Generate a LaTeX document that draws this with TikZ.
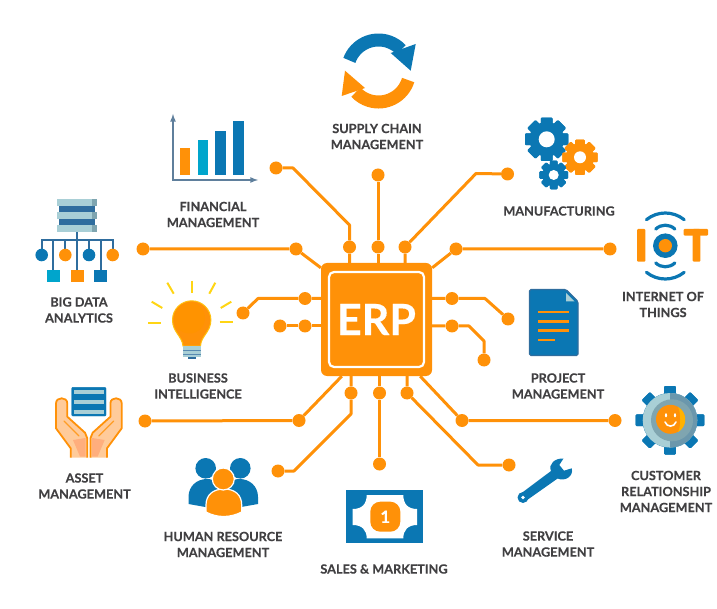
\documentclass[tikz,border=0pt]{standalone}
\usepackage{fontspec}
\setmainfont{Lato}[BoldFeatures={FakeBold=0.25}]
\usepackage{tikz}
\definecolor{erporange}{HTML}{FF9108}
\definecolor{erpblue}{HTML}{0B77B3}
\definecolor{erpcyan}{HTML}{00A5CC}
\definecolor{erpink}{HTML}{414042}
\definecolor{slate}{HTML}{5F7F9C}
\definecolor{stone}{HTML}{A9CFD6}
\definecolor{stonedark}{HTML}{7FA5B0}
\definecolor{ribbon}{HTML}{2F6D9E}
\definecolor{ray}{HTML}{FFD514}
\definecolor{peach}{HTML}{FFCB9A}
\definecolor{peachdark}{HTML}{FFAE7D}
\tikzstyle{pad}=[circle,fill=erporange,inner sep=0,minimum size=13pt]
\tikzstyle{trace}=[erporange,line width=3pt,line join=round]
\tikzstyle{lbl}=[erpink,font=\fontsize{12.7}{16}\selectfont\bfseries,align=center,inner sep=0]
\tikzstyle{wave}=[erpblue,line width=3.2pt,line cap=round]
\tikzstyle{rayline}=[ray,line width=2pt]
\newcommand{\gearicon}[6]{
        \fill[#5] (#1,#2) circle (0.8*#3);
        \foreach \a in {0,45,...,315}
                \fill[#5,rounded corners=1pt,rotate around={\a:(#1,#2)}] (#1-#6*#3,#2-#3) rectangle (#1+#6*#3,#2+#3);
        \fill[white] (#1,#2) circle (#4);
}
\newcommand{\handicon}{
        \filldraw[fill=peach,draw=erporange,line width=1.8pt,line join=round] (70.7,457.7) -- (70.7,448.3) -- (56,428.3) -- (56,403.3) .. controls (56,396.6) and (67.3,396.6) .. (67.3,403.3) -- (67.3,416.7) -- (85,432.7) -- (87.3,438.3) -- (87.3,457.7);
        \fill[peachdark] (73,440) -- (85.5,438) -- (85.5,456.5) -- (80,456.5) -- cycle;
        \draw[erporange!80!peach,line width=1.2pt,line cap=round] (64,421) -- (79,436);
}
\begin{document}
\begin{tikzpicture}[x=1pt,y=-1pt]
        \useasboundingbox (0,0) rectangle (717,609);
        \node[fill=erporange,rounded corners=6pt,inner sep=0,minimum width=111pt,minimum height=113pt] (chip) at (376.5,319.5) {};
        \node[fill=erporange,draw=white,line width=2.2pt,rounded corners=5pt,inner sep=0,minimum width=95pt,minimum height=95pt,text=white,font=\fontsize{43}{43}\selectfont\bfseries] (erp) at (376.5,319.5) {ERP};

        \node[pad] (fin1) at (276,168) {};
        \node[pad] (fin2) at (349.5,247) {};
        \node[pad] (sup1) at (378,175) {};
        \node[pad] (sup2) at (378,247) {};
        \node[pad] (man1) at (507.5,174) {};
        \node[pad] (man2) at (405,247) {};
        \node[pad] (big1) at (143,249) {};
        \node[pad] (big2) at (296,249) {};
        \node[pad] (iot1) at (610,249) {};
        \node[pad] (iot2) at (456,249) {};
        \node[pad] (bus1) at (243,313) {};
        \node[pad] (bus2) at (305,298.5) {};
        \node[pad] (bus3) at (280,326) {};
        \node[pad] (bus4) at (305,326) {};
        \node[pad] (pro1) at (508,319) {};
        \node[pad] (pro2) at (452,298.5) {};
        \node[pad] (pro3) at (484,360) {};
        \node[pad] (pro4) at (452,326) {};
        \node[pad] (ast1) at (145,421) {};
        \node[pad] (ast2) at (299,420.5) {};
        \node[pad] (hum1) at (278,471) {};
        \node[pad] (hum2) at (351,393) {};
        \node[pad] (sal1) at (379.5,464) {};
        \node[pad] (sal2) at (379.5,393) {};
        \node[pad] (ser1) at (509,465) {};
        \node[pad] (ser2) at (407,393) {};
        \node[pad] (crm1) at (615,420.5) {};
        \node[pad] (crm2) at (462,420.5) {};

        \draw[trace] (fin1) -- (293,168) -- (349.5,225) -- (fin2) -- (fin2 |- chip.north);
        \draw[trace] (sup1) -- (sup2) -- (sup2 |- chip.north);
        \draw[trace] (man1) -- (476,173.5) -- (man2) -- (man2 |- chip.north);
        \draw[trace] (big1) -- (big2) -- ([yshift=-5pt]chip.north west);
        \draw[trace] (iot1) -- (iot2) -- ([yshift=-5pt]chip.north east);
        \draw[trace] (bus1) -- (258,298.5) -- (bus2) -- (bus2 -| chip.west);
        \draw[trace] (bus3) -- (bus4) -- (bus4 -| chip.west);
        \draw[trace] (pro1) -- (485,298.5) -- (pro2) -- (pro2 -| chip.east);
        \draw[trace] (pro3) -- (484,341) -- (469,326) -- (pro4) -- (pro4 -| chip.east);
        \draw[trace] (ast1) -- (ast2) -- ([xshift=21pt]chip.south west);
        \draw[trace] (hum1) -- (294,471) -- (351,414) -- (hum2) -- (hum2 |- chip.south);
        \draw[trace] (sal1) -- (sal2) -- (sal2 |- chip.south);
        \draw[trace] (ser1) -- (478,465) -- (ser2) -- (ser2 |- chip.south);
        \draw[trace] (crm1) -- (crm2) -- ([xshift=-12pt]chip.south east);

        \node[lbl] (suplbl) at (377,136.5) {SUPPLY CHAIN\\MANAGEMENT};
        \node[lbl] (finlbl) at (213,214.5) {FINANCIAL\\MANAGEMENT};
        \node[lbl] (manlbl) at (559,211) {MANUFACTURING};
        \node[lbl] (biglbl) at (79,310) {BIG DATA\\ANALYTICS};
        \node[lbl] (iotlbl) at (663,304.5) {INTERNET OF\\THINGS};
        \node[lbl] (buslbl) at (198,386) {BUSINESS\\INTELLIGENCE};
        \node[lbl] (prolbl) at (558,386) {PROJECT\\MANAGEMENT};
        \node[lbl] (astlbl) at (84.5,486) {ASSET\\MANAGEMENT};
        \node[lbl] (humlbl) at (223,544.5) {HUMAN RESOURCE\\MANAGEMENT};
        \node[lbl] (sallbl) at (384,569) {SALES \& MARKETING};
        \node[lbl] (serlbl) at (548,544) {SERVICE\\MANAGEMENT};
        \node[lbl] (crmlbl) at (666,491.5) {CUSTOMER\\RELATIONSHIP\\MANAGEMENT};

        \draw[erpblue,line width=13pt] ([shift={(200:31)}]378.5,71) arc[start angle=200,end angle=317,radius=31];
        \fill[erpblue] (415.7,44) -- (410.7,70.7) -- (390.7,53) -- cycle;
        \draw[erporange,line width=13pt] ([shift={(17:31)}]378.5,71) arc[start angle=17,end angle=137,radius=31];
        \fill[erporange] (341.7,96) -- (345,70.7) -- (365,88) -- cycle;

        \fill[erporange] (180,148) rectangle (190,175);
        \fill[erpcyan] (197.5,140) rectangle (208,175);
        \fill[erpblue] (215,131) rectangle (226,175);
        \fill[erpblue] (233,121) rectangle (243.5,175);
        \draw[slate,line width=1.6pt,latex-latex] (173,114) -- (173,180) -- (258,180);

        \draw[ribbon,line width=2pt] (77,232) -- (77,270);
        \draw[ribbon,line width=2pt] (41.7,250) -- (41.7,240) -- (112.7,240) -- (112.7,250);
        \foreach \x in {53.3,100.7}
                \draw[ribbon,line width=2pt] (\x,240) -- (\x,270);
        \foreach \x in {65.3,89}
                \draw[ribbon,line width=2pt] (\x,240) -- (\x,250);
        \foreach \y in {206,219}
                \fill[ribbon] (59,\y) rectangle (95,\y+7);
        \foreach \y in {199,212,224.7} {
                \fill[stone] (57,\y) rectangle (91.5,\y+7.3);
                \fill[stonedark] (91.5,\y) rectangle (97,\y+7.3);
        }
        \fill[erpblue] (41.7,255) circle (6.3);
        \fill[erporange] (65.3,255) circle (6.3);
        \fill[erpblue] (89,255) circle (6.3);
        \fill[erporange] (112.7,255) circle (6.3);
        \fill[erpcyan] (47.3,270) rectangle (60,282.5);
        \fill[erporange] (71,270) rectangle (83.5,282.5);
        \fill[erpblue] (94.3,270) rectangle (107,282.5);

        \draw[rayline] (191.7,280.7) -- (191.7,293.3);
        \draw[rayline] (167.3,282.7) -- (173.7,293.7);
        \draw[rayline] (215.3,282.7) -- (209.3,293.7);
        \draw[rayline] (151.7,301.7) -- (162.3,308);
        \draw[rayline] (231.3,301.7) -- (220.7,308);
        \draw[rayline] (148.3,323.3) -- (161.3,323.3);
        \draw[rayline] (219.7,322) -- (232.7,322);
        \filldraw[fill=erporange,draw=ray!70!erporange,line width=1pt] (183,346) .. controls (182,336) and (172.5,332) .. (172.5,320) arc[start angle=180,end angle=360,radius=19.2] .. controls (210.9,332) and (201,336) .. (200.5,346) -- cycle;
        \fill[orange!85!yellow] (189.5,318) circle (15.5);
        \fill[stone] (183,346) rectangle (201,357);
        \fill[ribbon!80!white] (183,349.5) rectangle (201,351);
        \fill[ribbon!80!white] (183,353.5) rectangle (201,355);
        \fill[ribbon] (188,357) rectangle (196,359);

        \gearicon{546.7}{139.3}{21.7}{8}{erpblue}{0.27}
        \gearicon{580}{157.3}{17.7}{6}{erporange}{0.27}
        \gearicon{553.7}{175}{14.3}{5}{erpblue}{0.27}

        \fill[erporange,rounded corners=1pt] (637,229) rectangle (645.3,261.7);
        \fill[erporange,rounded corners=1pt] (683.7,229) rectangle (708,235.7);
        \fill[erporange,rounded corners=1pt] (692.7,229) rectangle (700.3,261.7);
        \fill[erpblue] (665.3,245.7) circle (12.3);
        \fill[erporange] (665.3,245.7) circle (6.7);
        \draw[wave] ([shift={(231:30)}]665.3,243) arc[start angle=231,end angle=309,radius=30];
        \draw[wave] ([shift={(226:13.8)}]665.3,239) arc[start angle=226,end angle=314,radius=13.8];
        \draw[wave] ([shift={(51:30)}]665.3,249) arc[start angle=51,end angle=129,radius=30];
        \draw[wave] ([shift={(46:13.8)}]665.3,253) arc[start angle=46,end angle=134,radius=13.8];

        \filldraw[fill=erpblue,draw=ribbon,line width=1.2pt,rounded corners=1.5pt] (529.5,289.5) -- (566,289.5) -- (578,301.5) -- (578,355.5) -- (529.5,355.5) -- cycle;
        \fill[stone] (566,293) -- (566,301.5) -- (574.5,301.5) -- cycle;
        \foreach \y in {312,321.3,330.7}
                \draw[erporange,line width=2.6pt] (538.3,\y) -- (569,\y);
        \draw[erporange,line width=2.6pt] (538.3,340) -- (555,340);

        \handicon
        \begin{scope}[shift={(177.7,0)},xscale=-1]
                \handicon
        \end{scope}
        \filldraw[fill=erpblue,draw=erpblue,rounded corners=1pt] (71.7,387.3) rectangle (106,416);
        \foreach \y in {389.5,399.5,410}
                \fill[stone] (74,\y) rectangle (103.5,\y+4.3);

        \fill[erpblue] (205.7,468.3) circle (10.3);
        \fill[erpblue] (240.3,468.3) circle (10.3);
        \fill[erpblue] (188.5,504) -- (188.5,497) .. controls (188.5,486) and (197,479) .. (207,479) .. controls (215,479) and (222,484) .. (222,497) -- (222,510) -- cycle;
        \fill[erpblue] (258,504) -- (258,497) .. controls (258,486) and (249.5,479) .. (239.5,479) .. controls (231.5,479) and (224.5,484) .. (224.5,497) -- (224.5,510) -- cycle;
        \filldraw[fill=erporange,draw=white,line width=1.2pt] (206,512) -- (206,505) .. controls (206,495) and (213,489) .. (224,489) .. controls (235,489) and (241.7,495) .. (241.7,505) -- (241.7,512) .. controls (230,518) and (217,518) .. (206,512) -- cycle;
        \filldraw[fill=erporange,draw=white,line width=1.2pt] (223.3,479) circle (11);

        \fill[erpblue] (346,490.3) rectangle (423.3,543.3);
        \fill[white] (366.7,495) -- (403.3,495) .. controls (403.3,504) and (408,509) .. (417,509) -- (417,525) .. controls (408,525) and (403.3,530) .. (403.3,538.3) -- (366.7,538.3) .. controls (366.7,530) and (362,525) .. (352.7,525) -- (352.7,509) .. controls (362,509) and (366.7,504) .. (366.7,495) -- cycle;
        \node[fill=erporange,rounded corners=10pt,inner sep=0,minimum size=30pt,text=white,font=\fontsize{17}{17}\selectfont\bfseries] (coin) at (385.3,516.7) {1};

        \fill[erpblue] (563.5,458.5) .. controls (555,458) and (548,464) .. (551,471) -- (520.4,493.9) -- (525.6,501.1) -- (557.6,478.5) .. controls (565,482) and (574,476) .. (571.7,468.3) -- (564,470.7) -- (559.3,465) -- cycle;
        \fill[erpblue] (523,497.5) circle (5.5);
        \fill[white] (523,497.5) circle (1.8);

        \gearicon{670}{420.3}{34.3}{1}{erpblue}{0.17}
        \fill[stone] (670,420.3) circle (27.3);
        \fill[stonedark!75!ribbon] (670,393) arc[start angle=270,end angle=450,radius=27.3] -- cycle;
        \fill[stonedark] (672,420.3) circle (21);
        \fill[erporange] (670.5,419.3) circle (14.5);
        \fill[orange!60!yellow] (678,407) arc[start angle=-60,end angle=60,radius=14.5] .. controls (681,426) and (681,413) .. (678,407) -- cycle;
        \fill[white] (666,415.3) ellipse (1.1 and 2);
        \fill[white] (675,415.3) ellipse (1.1 and 2);
        \draw[white,line width=1.6pt,line cap=round] (665,422) .. controls (667,427.5) and (674,427.5) .. (676,422);
\end{tikzpicture}
\end{document}
